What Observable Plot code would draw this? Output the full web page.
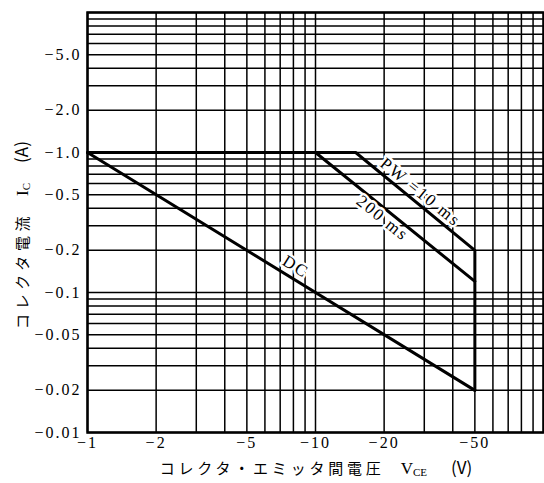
<!DOCTYPE html>
<html>
<head>
<meta charset="utf-8">
<script src="https://cdn.jsdelivr.net/npm/d3@7"></script>
<script src="https://cdn.jsdelivr.net/npm/@observablehq/plot@0.6"></script>
<style>
  html, body { margin: 0; padding: 0; background: #fff; }
  #chart svg { display: block; }
</style>
</head>
<body>
<div id="chart"></div>
<script>
// Axis ticks and labels
const xTicks = [1, 2, 5, 10, 20, 50];
const xTickLabels = ["−1", "−2", "−5", "−10", "−20", "−50"];
const yTicks = [0.01, 0.02, 0.05, 0.1, 0.2, 0.5, 1, 2, 5];
const yTickLabels = ["−0.01", "−0.02", "−0.05", "−0.1", "−0.2", "−0.5", "−1.0", "−2.0", "−5.0"];

// Log grid lines
const xGrid = [1, 2, 3, 4, 5, 6, 7, 8, 9, 10, 20, 30, 40, 50, 60, 70, 80, 90, 100];
const yGrid = [0.01, 0.02, 0.03, 0.04, 0.05, 0.06, 0.07, 0.08, 0.09,
               0.1, 0.2, 0.3, 0.4, 0.5, 0.6, 0.7, 0.8, 0.9,
               1, 2, 3, 4, 5, 6, 7, 8, 9, 10];

// SOA curves (|VCE| in V, |IC| in A)
const pw10V = [1, 15, 50, 50];
const pw10I = [1.0, 1.0, 0.2, 0.02];
const pw200V = [10, 50];
const pw200I = [1.0, 0.12];
const dcV = [1, 50];
const dcI = [1.0, 0.02];

// Curve labels
const labelText = ["PW =10 ms", "200 ms", "DC"];
const labelV = [28.9, 19.7, 8.2];
const labelI = [0.52, 0.34, 0.153];
const labelAngle = [39, 39, 32];

const toPts = (vs, is) => vs.map((v, i) => ({v, i: is[i]}));
const curves = [
  {name: "10ms", pts: toPts(pw10V, pw10I)},
  {name: "200ms", pts: toPts(pw200V, pw200I)},
  {name: "DC", pts: toPts(dcV, dcI)}
];
const labels = labelText.map((t, k) => ({t, v: labelV[k], i: labelI[k], a: labelAngle[k]}));
const xTickData = xTicks.map((v, k) => ({v, t: xTickLabels[k]}));
const yTickData = yTicks.map((v, k) => ({v, t: yTickLabels[k]}));

const serif = "'Liberation Serif', 'DejaVu Serif', serif";
const cjk = "'Noto Sans CJK JP', sans-serif";

const plot = Plot.plot({
  width: 544,
  height: 483,
  marginLeft: 87,
  marginRight: 1,
  marginTop: 12,
  marginBottom: 51,
  style: {background: "#fff", color: "#000"},
  x: {type: "log", domain: [1, 100], axis: null},
  y: {type: "log", domain: [0.01, 10], axis: null},
  marks: [
    Plot.ruleX(xGrid, {x: d => d, stroke: "#000", strokeWidth: 1.5}),
    Plot.ruleY(yGrid, {y: d => d, stroke: "#000", strokeWidth: 1.5}),
    ...curves.map(c => Plot.line(c.pts, {x: "v", y: "i", stroke: "#000", strokeWidth: 3, strokeLinejoin: "miter"})),
    Plot.text(labels, {x: "v", y: "i", text: "t", rotate: "a", fontSize: 17, fontFamily: serif,
      fill: "#000", stroke: "#fff", strokeWidth: 5, className: "curve-label"}),
    Plot.frame({stroke: "#000", strokeWidth: 2.5}),
    Plot.text(xTickData, {x: "v", text: "t", frameAnchor: "bottom", lineAnchor: "top", dy: 4,
      fontSize: 16, fontFamily: serif, fill: "#000", className: "tick-label"}),
    Plot.text(yTickData, {y: "v", text: "t", frameAnchor: "left", textAnchor: "end", dx: -6,
      fontSize: 16, fontFamily: serif, fill: "#000", className: "tick-label"})
  ]
});

document.getElementById("chart").appendChild(plot);

const svg = d3.select(plot);
svg.selectAll(".tick-label text, .curve-label text").style("letter-spacing", "2px");

// Axis titles with subscripts
const xt = svg.append("text")
  .attr("x", 316).attr("y", 474)
  .attr("text-anchor", "middle")
  .attr("fill", "#000")
  .style("font-size", "15px");
xt.append("tspan").attr("font-family", cjk).style("letter-spacing", "3.8px").text("コレクタ・エミッタ間電圧");
xt.append("tspan").attr("font-family", serif).attr("dx", 16).style("font-size", "17px").text("V");
xt.append("tspan").attr("font-family", serif).style("font-size", "11px").attr("dy", 2).text("CE");
xt.append("tspan").attr("font-family", cjk).attr("dy", -2).attr("dx", 24).style("font-size", "17px").text("(V)");

const yt = svg.append("text")
  .attr("transform", "translate(28,235) rotate(-90)")
  .attr("text-anchor", "middle")
  .attr("fill", "#000")
  .style("font-size", "15px");
yt.append("tspan").attr("font-family", cjk).style("letter-spacing", "4.6px").text("コレクタ電流");
yt.append("tspan").attr("font-family", serif).attr("dx", 16).style("font-size", "17px").text("I");
yt.append("tspan").attr("font-family", serif).style("font-size", "11px").attr("dy", 2).text("C");
yt.append("tspan").attr("font-family", cjk).attr("dy", -2).attr("dx", 20).style("font-size", "17px").text("(A)");
</script>
</body>
</html>
